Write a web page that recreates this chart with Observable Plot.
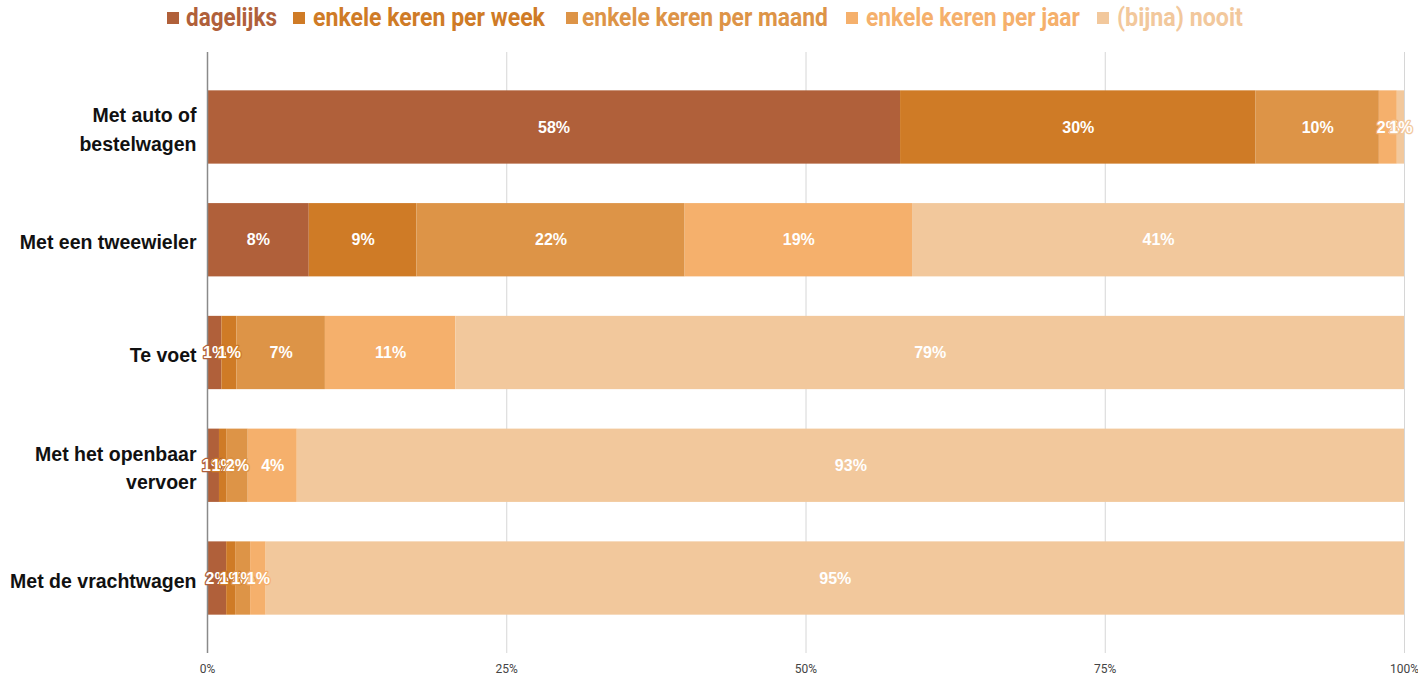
<!DOCTYPE html>
<html>
<head>
<meta charset="utf-8">
<script src="https://cdn.jsdelivr.net/npm/d3@7"></script>
<script src="https://cdn.jsdelivr.net/npm/@observablehq/plot@0.6"></script>
<style>
  html, body { margin: 0; padding: 0; background: #fff; }
  svg { display: block; }
</style>
</head>
<body>
<div id="legend"></div>
<div id="chart"></div>
<script>
const categories = ["Met auto of\nbestelwagen", "Met een tweewieler", "Te voet", "Met het openbaar\nvervoer", "Met de vrachtwagen"];
const series = ["dagelijks", "enkele keren per week", "enkele keren per maand", "enkele keren per jaar", "(bijna) nooit"];
const colors = ["#B0603A", "#CF7B26", "#DD9447", "#F5B06C", "#F2C89C"];
// values per series, in the order of categories (percent)
const dagelijks = [57.9, 8.5, 1.2, 1.0, 1.6];
const perWeek   = [29.7, 9.0, 1.25, 0.6, 0.75];
const perMaand  = [10.3, 22.4, 7.4, 1.8, 1.25];
const perJaar   = [1.5, 19.0, 10.9, 4.1, 1.3];
const nooit     = [0.6, 41.1, 79.25, 92.5, 95.1];
const labels = [
  ["58%", "8%", "1%", "1%", "2%"],
  ["30%", "9%", "1%", "1%", "1%"],
  ["10%", "22%", "7%", "2%", "1%"],
  ["2%", "19%", "11%", "4%", "1%"],
  ["1%", "41%", "79%", "93%", "95%"]
];
const xTicks = [0, 25, 50, 75, 100];
const xTickLabels = ["0%", "25%", "50%", "75%", "100%"];

const seriesValues = [dagelijks, perWeek, perMaand, perJaar, nooit];
const data = [];
series.forEach((s, si) => categories.forEach((c, ci) => {
  data.push({cat: c, series: s, value: seriesValues[si][ci], label: labels[si][ci]});
}));

// legend (SVG, condensed text)
const legendLayout = [ // [swatch x, text x, text width]
  [167, 186, 91], [293, 313, 232], [566, 582, 246], [846, 866, 214], [1097, 1117, 126]
];
const NS = "http://www.w3.org/2000/svg";
const lsvg = document.createElementNS(NS, "svg");
lsvg.setAttribute("width", 1418); lsvg.setAttribute("height", 40);
document.getElementById("legend").appendChild(lsvg);
series.forEach((s, i) => {
  const [sx, tx, tw] = legendLayout[i];
  const r = document.createElementNS(NS, "rect");
  r.setAttribute("x", sx); r.setAttribute("y", 12); r.setAttribute("width", 12); r.setAttribute("height", 12);
  r.setAttribute("fill", colors[i]);
  lsvg.appendChild(r);
  const t = document.createElementNS(NS, "text");
  t.setAttribute("fill", colors[i]);
  t.setAttribute("font-family", "Roboto, 'Liberation Sans', sans-serif");
  t.setAttribute("font-weight", "bold");
  t.setAttribute("font-size", "25");
  t.textContent = s;
  lsvg.appendChild(t);
  const natural = t.getComputedTextLength() || tw;
  t.setAttribute("transform", `translate(${tx},26) scale(${tw / natural},1)`);
});

const chart = Plot.plot({
  width: 1418,
  height: 638,
  marginTop: 12,
  marginBottom: 25,
  marginLeft: 207,
  marginRight: 14,
  style: {fontFamily: "Liberation Sans, Arial, sans-serif", background: "#fff"},
  x: {domain: [0, 100], label: null},
  y: {domain: categories, paddingInner: 0.35, paddingOuter: 0.34, round: false, label: null},
  color: {domain: series, range: colors},
  marks: [
    Plot.gridX(xTicks, {stroke: "#d6d6d6", strokeOpacity: 1, strokeWidth: 1}),
    Plot.barX(data, Plot.stackX({x: "value", y: "cat", fill: "series", order: series})),
    Plot.ruleX([0], {stroke: "#8a8a8a", strokeWidth: 1.5}),
    Plot.text(data, Plot.stackX({x: "value", y: "cat", z: "series", order: series, text: "label",
      fill: "white", stroke: "series", strokeWidth: 2.5, fontWeight: "bold", fontSize: 16,
      fontFamily: "Liberation Sans, Arial, sans-serif"})),
    Plot.axisX(xTicks, {tickSize: 0, tickPadding: 11, tickFormat: (d) => xTickLabels[xTicks.indexOf(d)],
      fontSize: 12, fill: "#444", fontFamily: "Roboto, sans-serif", label: null}),
    Plot.axisY({tickSize: 0, tickPadding: 11, fontSize: 19.5, fontWeight: "bold", fill: "#111",
      lineHeight: 1.45, label: null})
  ]
});
document.getElementById("chart").appendChild(chart);
</script>
</body>
</html>
